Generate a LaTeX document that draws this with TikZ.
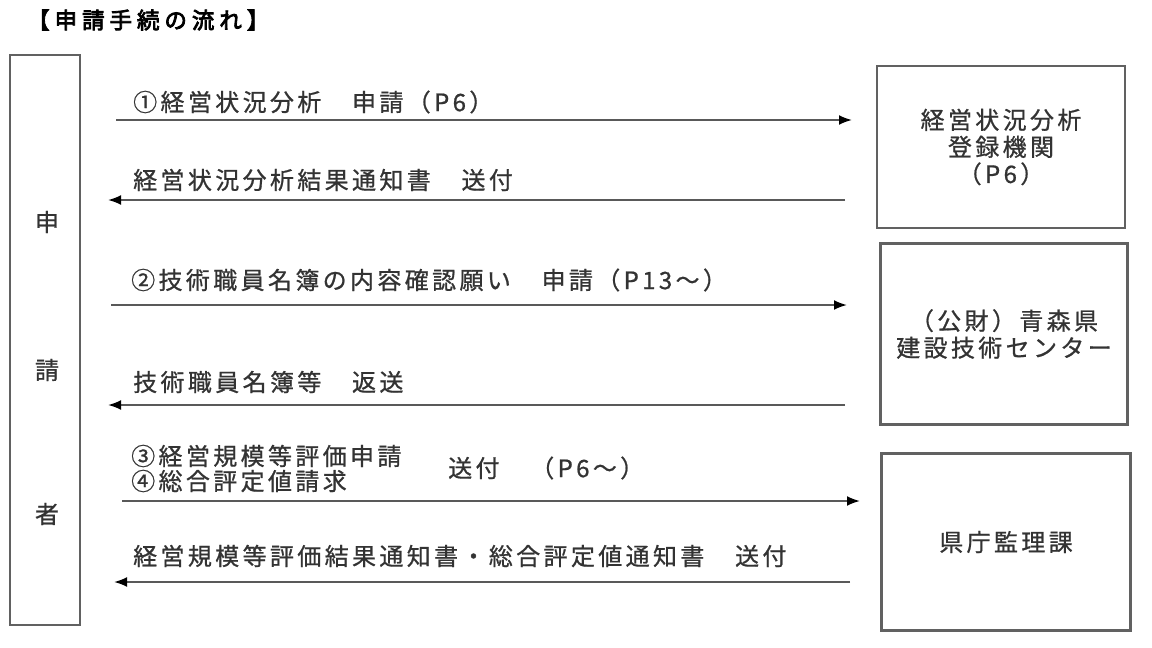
\documentclass[tikz,border=0pt]{standalone}
\usepackage{fontspec}
\usetikzlibrary{arrows.meta}
\newfontfamily\jp[LetterSpace=14,FakeBold=0.8]{Noto Sans CJK JP}
\newfontfamily\jpt[LetterSpace=22,FakeBold=3.5]{Noto Sans CJK JP}
\tikzset{
  lbl/.style={font=\jp\fontsize{24}{28}\selectfont, text=black!80, inner sep=0pt, anchor=west},
  orgbox/.style={draw=black!62, line width=2.4pt, font=\jp\fontsize{24}{27}\selectfont, text=black!80, align=center, inner sep=0pt},
  flow/.style={draw=black!65, line width=2pt, -{Latex[color=black,length=13pt,width=10pt]}},
}
\begin{document}
\begin{tikzpicture}[x=1pt,y=-1pt]
\useasboundingbox (0,0) rectangle (1152,648);
\fill[white] (0,0) rectangle (1152,648);
% title
\node[font=\jpt\fontsize{22.5}{24}\selectfont, anchor=west, inner sep=0pt] (title) at (27,20) {【申請手続の流れ】};
% applicant
\node[draw=black!62, line width=2pt, minimum width=70pt, minimum height=570pt, inner sep=0pt] (app) at (45,340) {};
\node[lbl, anchor=center] (c1) at (47,222) {申};
\node[lbl, anchor=center] (c2) at (47,370) {請};
\node[lbl, anchor=center] (c3) at (47,514) {者};
% organisations
\node[orgbox, minimum width=248pt, minimum height=162pt] (b1) at (1001,147) {経営状況分析\\登録機関\\（P6）};
\node[orgbox, minimum width=247pt, minimum height=181pt] (b2) at (1004,334) {（公財）青森県\\建設技術センター};
\node[orgbox, minimum width=249pt, minimum height=177pt] (b3) at (1006,542) {県庁監理課};
% arrow end points
\coordinate (s1) at (116,120); \coordinate (e1) at (852,120);
\coordinate (s2) at (845,200); \coordinate (e2) at (108,200);
\coordinate (s3) at (111,305); \coordinate (e3) at (847,305);
\coordinate (s4) at (845,405); \coordinate (e4) at (108,405);
\coordinate (s5) at (122,501); \coordinate (e5) at (860,501);
\coordinate (s6) at (850,582); \coordinate (e6) at (114,582);
\draw[flow] (s1) -- (e1);
\draw[flow] (s2) -- (e2);
\draw[flow] (s3) -- (e3);
\draw[flow] (s4) -- (e4);
\draw[flow] (s5) -- (e5);
\draw[flow] (s6) -- (e6);
% labels
\node[lbl] (l1) at (133,102) {①経営状況分析　申請（P6）};
\node[lbl] (l2) at (133,180) {経営状況分析結果通知書　送付};
\node[lbl] (l3) at (131,280) {②技術職員名簿の内容確認願い　申請（P13～）};
\node[lbl] (l4) at (133,382) {技術職員名簿等　返送};
\node[lbl] (l5a) at (131,456) {③経営規模等評価申請};
\node[lbl] (l5b) at (131,481) {④総合評定値請求};
\node[lbl] (l5c) at (448,468) {送付　（P6～）};
\node[lbl] (l6) at (133,556) {経営規模等評価結果通知書・総合評定値通知書　送付};
\end{tikzpicture}
\end{document}
